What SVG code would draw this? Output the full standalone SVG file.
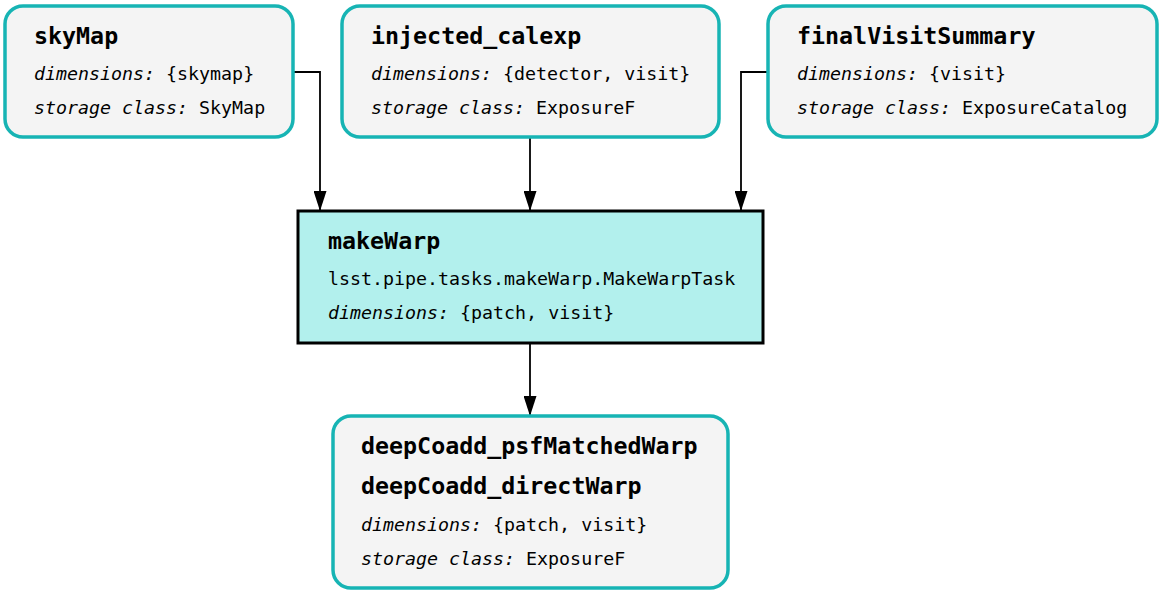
<svg xmlns="http://www.w3.org/2000/svg" width="1163" height="595" viewBox="0 0 1163 595">
<defs>
<marker id="arr" markerUnits="userSpaceOnUse" markerWidth="20" markerHeight="13" refX="20" refY="6.5" orient="auto" viewBox="0 0 20 13">
<path d="M0,0 L20,6.5 L0,13 Z" fill="#000"/>
</marker>
<style>
.ds{fill:#f4f4f4;stroke:#17b4b4;stroke-width:3.5}
.task{fill:#b2f0ed;stroke:#000;stroke-width:3}
text{font-family:"DejaVu Sans Mono",monospace;fill:#000}
.t{font-size:23.3px;font-weight:bold}
.s{font-size:18.3px}
.i{font-style:italic}
.e{fill:none;stroke:#000;stroke-width:1.8}
</style>
</defs>
<rect width="1163" height="595" fill="#fff"/>
<g id="connectors">
<path class="e" d="M293,72 H320 V211" marker-end="url(#arr)"/>
<path class="e" d="M530,137 V211" marker-end="url(#arr)"/>
<path class="e" d="M768,72 H741 V211" marker-end="url(#arr)"/>
<path class="e" d="M530,343 V416" marker-end="url(#arr)"/>
</g>
<g id="skyMap">
<rect class="ds" x="5" y="6" width="288" height="131" rx="18"/>
<text class="t" x="34" y="44">skyMap</text>
<text class="s" x="34" y="80"><tspan class="i">dimensions:</tspan> {skymap}</text>
<text class="s" x="34" y="114"><tspan class="i">storage class:</tspan> SkyMap</text>
</g>
<g id="injected_calexp">
<rect class="ds" x="342" y="6" width="377" height="131" rx="18"/>
<text class="t" x="371" y="44">injected_calexp</text>
<text class="s" x="371" y="80"><tspan class="i">dimensions:</tspan> {detector, visit}</text>
<text class="s" x="371" y="114"><tspan class="i">storage class:</tspan> ExposureF</text>
</g>
<g id="finalVisitSummary">
<rect class="ds" x="768" y="6" width="389" height="131" rx="18"/>
<text class="t" x="797" y="44">finalVisitSummary</text>
<text class="s" x="797" y="80"><tspan class="i">dimensions:</tspan> {visit}</text>
<text class="s" x="797" y="114"><tspan class="i">storage class:</tspan> ExposureCatalog</text>
</g>
<g id="makeWarp">
<rect class="task" x="298" y="211" width="465" height="132"/>
<text class="t" x="328" y="249">makeWarp</text>
<text class="s" x="328" y="285">lsst.pipe.tasks.makeWarp.MakeWarpTask</text>
<text class="s" x="328" y="319"><tspan class="i">dimensions:</tspan> {patch, visit}</text>
</g>
<g id="outputs">
<rect class="ds" x="333" y="416" width="395" height="172" rx="18"/>
<text class="t" x="361" y="454">deepCoadd_psfMatchedWarp</text>
<text class="t" x="361" y="494">deepCoadd_directWarp</text>
<text class="s" x="361" y="531"><tspan class="i">dimensions:</tspan> {patch, visit}</text>
<text class="s" x="361" y="565"><tspan class="i">storage class:</tspan> ExposureF</text>
</g>
</svg>
